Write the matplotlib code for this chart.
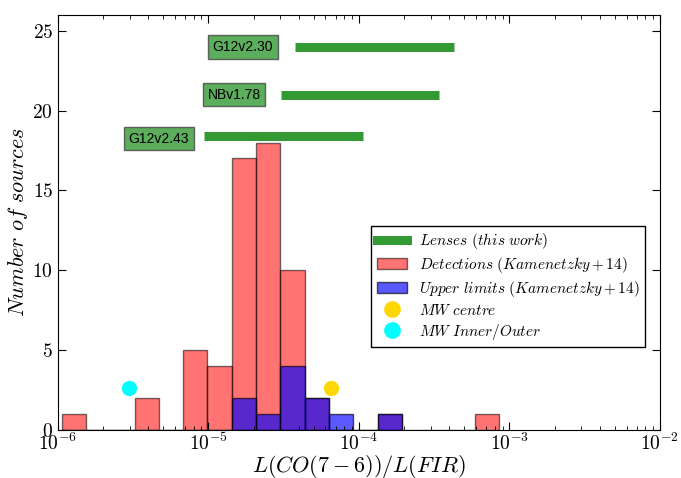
import matplotlib
matplotlib.use("Agg")
import matplotlib.pyplot as plt
import numpy as np
from matplotlib.patches import Patch
from matplotlib.lines import Line2D

plt.rcParams['mathtext.fontset'] = 'cm'
plt.rcParams['font.family'] = 'serif'
plt.rcParams['font.serif'] = ['cmr10', 'DejaVu Serif']
plt.rcParams['axes.formatter.use_mathtext'] = True

# histogram counts per log bin (Kamenetzky+14)
det_counts = [1, 0, 0, 2, 0, 5, 4, 17, 18, 10, 2, 0, 0, 1, 0, 0, 0, 1]
upp_counts = [0, 0, 0, 0, 0, 0, 0, 2, 1, 4, 2, 1, 0, 1]

# lens ranges (this work)
lens_names = ['G12v2.30', 'NBv1.78', 'G12v2.43']
lens_lo = [3.76e-5, 3.02e-5, 9.3e-6]
lens_hi = [4.27e-4, 3.42e-4, 1.06e-4]
lens_y = [24.0, 21.0, 18.4]
label_x = [1.69e-5, 1.48e-5, 4.69e-6]
label_y = [24.0, 21.0, 18.25]

# Milky Way points
mw_centre = (6.49e-5, 2.6)
mw_inout = (2.98e-6, 2.6)

log_start = -5.975
log_width = 0.1615

fig = plt.figure(figsize=(6.81, 4.78), dpi=100)
ax = fig.add_axes([0.085, 0.1004, 0.884, 0.8688])


def bin_bars(counts):
    lefts = [10 ** (log_start + i * log_width) for i in range(len(counts))]
    widths = [10 ** (log_start + (i + 1) * log_width) - l for i, l in enumerate(lefts)]
    return lefts, widths


l, w = bin_bars(det_counts)
ax.bar(l, det_counts, width=w, align='edge', color='red', alpha=0.55,
       edgecolor='black', linewidth=1.0)
l, w = bin_bars(upp_counts)
ax.bar(l, upp_counts, width=w, align='edge', color='blue', alpha=0.65,
       edgecolor='black', linewidth=1.0)

for name, lo, hi, y, lx, ly in zip(lens_names, lens_lo, lens_hi, lens_y, label_x, label_y):
    ax.plot([lo, hi], [y, y], color='#339933', linewidth=6.5, solid_capstyle='butt')
    ax.text(lx, ly, name, ha='center', va='center', fontsize=10,
            family='Liberation Sans',
            bbox=dict(boxstyle='square,pad=0.35', facecolor='#339933', alpha=0.8,
                      edgecolor='#444444'))

ax.plot(*mw_centre, 'o', color='gold', markersize=11, markeredgecolor='none')
ax.plot(*mw_inout, 'o', color='cyan', markersize=11, markeredgecolor='none')

ax.set_xscale('log')
ax.set_xlim(1e-6, 1e-2)
ax.set_ylim(0, 26)
ax.set_yticks([0, 5, 10, 15, 20, 25])
ax.tick_params(which='both', direction='in', top=True, right=True, labelsize=14)
ax.tick_params(which='major', length=6)
ax.tick_params(which='minor', length=3)
ax.tick_params(axis='x', pad=2)

ax.set_xlabel(r'$L(CO(7-6))/L(FIR)$', fontsize=16, labelpad=-1)
ax.set_ylabel(r'$Number\ of\ sources$', fontsize=16, labelpad=2)

handles = [
    Line2D([0], [0], color='#339933', linewidth=6.5),
    Patch(facecolor='red', alpha=0.55, edgecolor='black'),
    Patch(facecolor='blue', alpha=0.65, edgecolor='black'),
    Line2D([0], [0], marker='o', linestyle='none', color='gold', markersize=11),
    Line2D([0], [0], marker='o', linestyle='none', color='cyan', markersize=11),
]
labels = [r'$Lenses\ (this\ work)$', r'$Detections\ (Kamenetzky+14)$',
          r'$Upper\ limits\ (Kamenetzky+14)$', r'$MW\ centre$', r'$MW\ Inner/Outer$']
leg = ax.legend(handles, labels, loc='lower right', bbox_to_anchor=(0.976, 0.20),
                borderaxespad=0, fontsize=11, fancybox=False, framealpha=1,
                edgecolor='black', numpoints=1, labelspacing=0.25,
                borderpad=0.35)
leg.get_frame().set_linewidth(1.0)

fig.savefig('out.png', dpi=100)
